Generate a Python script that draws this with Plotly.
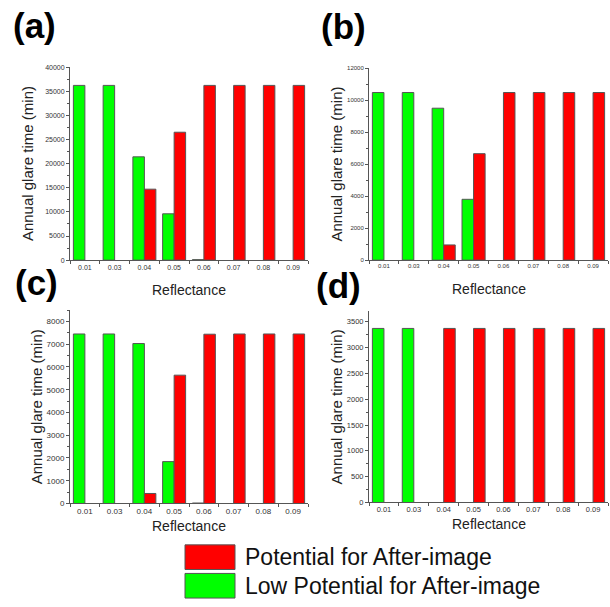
import plotly.graph_objects as go

W, H = 610, 607

categories = ["0.01", "0.03", "0.04", "0.05", "0.06", "0.07", "0.08", "0.09"]

# Panel (a)
a_low = [36200, 36200, 21400, 9600, 100, None, None, None]
a_pot = [None, None, 14700, 26500, 36200, 36200, 36200, 36200]
# Panel (b)
b_low = [10470, 10470, 9490, 3800, None, None, None, None]
b_pot = [None, None, 950, 6650, 10470, 10470, 10470, 10470]
# Panel (c)
c_low = [7450, 7450, 7030, 1840, 20, None, None, None]
c_pot = [None, None, 440, 5640, 7440, 7450, 7450, 7450]
# Panel (d)
d_low = [3370, 3370, None, None, None, None, None, None]
d_pot = [None, None, 3370, 3370, 3370, 3370, 3370, 3370]

series_names = ["Low Potential for After-image", "Potential for After-image"]
panel_labels = ["(a)", "(b)", "(c)", "(d)"]
x_title = "Reflectance"
y_title = "Annual glare time (min)"

GREEN = "#00FF00"
RED = "#FF0000"
EDGE = "#555555"
FONT = "Liberation Sans, Arial, sans-serif"


def px_x(p):
    return p / W


def px_y(p):
    return 1 - p / H


panels = [
    dict(low=a_low, pot=a_pot, xd=(70, 308), yd=(260, 64), rng=[0, 40000], dt=5000, fs=7, ytx=27.5),
    dict(low=b_low, pot=b_pot, xd=(369, 608), yd=(260, 65), rng=[0, 12000], dt=2000, fs=6, ytx=336.5),
    dict(low=c_low, pot=c_pot, xd=(70, 308), yd=(507, 310.7), rng=[0, 8500], dt=1000, fs=8, ytx=36.5),
    dict(low=d_low, pot=d_pot, xd=(369, 608), yd=(506, 312), rng=[0, 3700], dt=500, fs=7.5, ytx=336.5),
]
xt_y = [290, 289, 530, 528]
lab_pos = [(11, 22), (319, 23), (13, 283), (314, 286)]

fig = go.Figure()
annotations = []
shapes = []

for i, p in enumerate(panels):
    n = "" if i == 0 else str(i + 1)
    xa, ya = "x" + n, "y" + n
    fig.add_trace(go.Bar(x=categories, y=p["low"], name=series_names[0], xaxis=xa, yaxis=ya,
                         marker=dict(color=GREEN, line=dict(color=EDGE, width=1)), showlegend=False))
    fig.add_trace(go.Bar(x=categories, y=p["pot"], name=series_names[1], xaxis=xa, yaxis=ya,
                         marker=dict(color=RED, line=dict(color=EDGE, width=1)), showlegend=False))
    xkey = "xaxis" + n
    ykey = "yaxis" + n
    fig.update_layout(**{
        xkey: dict(domain=[px_x(p["xd"][0]), px_x(p["xd"][1])], anchor=ya,
                   type="category", range=[-0.5, 7.5],
                   showline=True, linecolor=EDGE, linewidth=1,
                   ticks="outside", tickson="boundaries", ticklen=3, tickcolor=EDGE,
                   tickfont=dict(size=p["fs"], color="#333", family=FONT),
                   showgrid=False, zeroline=False),
        ykey: dict(domain=[px_y(p["yd"][0]), px_y(p["yd"][1])], anchor=xa,
                   range=p["rng"], tick0=0, dtick=p["dt"], tickformat="d",
                   showline=True, linecolor=EDGE, linewidth=1,
                   ticks="outside", ticklen=3, tickcolor=EDGE,
                   minor=dict(ticks="outside", ticklen=2, dtick=p["dt"] / 2, tickcolor=EDGE),
                   tickfont=dict(size=p["fs"], color="#333", family=FONT),
                   showgrid=False, zeroline=False),
    })
    # axis titles
    annotations.append(dict(text=y_title, textangle=-90, x=px_x(p["ytx"]),
                            y=px_y((p["yd"][0] + p["yd"][1]) / 2), xref="paper", yref="paper",
                            showarrow=False, xanchor="center", yanchor="middle",
                            font=dict(size=15, color="#222", family=FONT)))
    annotations.append(dict(text=x_title, x=px_x((p["xd"][0] + p["xd"][1]) / 2), y=px_y(xt_y[i]),
                            xref="paper", yref="paper", showarrow=False,
                            xanchor="center", yanchor="middle",
                            font=dict(size=14, color="#222", family=FONT)))
    lx, ly = lab_pos[i]
    annotations.append(dict(text="<b>" + panel_labels[i] + "</b>", x=px_x(lx), y=px_y(ly),
                            xref="paper", yref="paper", showarrow=False,
                            xanchor="left", yanchor="middle",
                            font=dict(size=35, color="#000", family=FONT)))

# legend drawn manually
legend_items = [(series_names[1], RED, 549, 574), (series_names[0], GREEN, 578, 603)]
for name, col, y0, y1 in legend_items:
    shapes.append(dict(type="rect", xref="paper", yref="paper",
                       x0=px_x(185), x1=px_x(235), y0=px_y(y1), y1=px_y(y0),
                       fillcolor=col, line=dict(color=EDGE, width=1)))
    annotations.append(dict(text=name, x=px_x(243), y=px_y((y0 + y1) / 2), xref="paper", yref="paper",
                            showarrow=False, xanchor="left", yanchor="middle",
                            font=dict(size=23, color="#111", family=FONT)))

fig.update_layout(
    width=W, height=H, margin=dict(l=0, r=0, t=0, b=0),
    barmode="group", bargap=0.227, bargroupgap=0,
    plot_bgcolor="white", paper_bgcolor="white",
    annotations=annotations, shapes=shapes,
    font=dict(family=FONT),
)

fig.write_html("out.html", config={"displayModeBar": False},
               post_script="document.body.style.margin='0';document.body.style.overflow='hidden';")
